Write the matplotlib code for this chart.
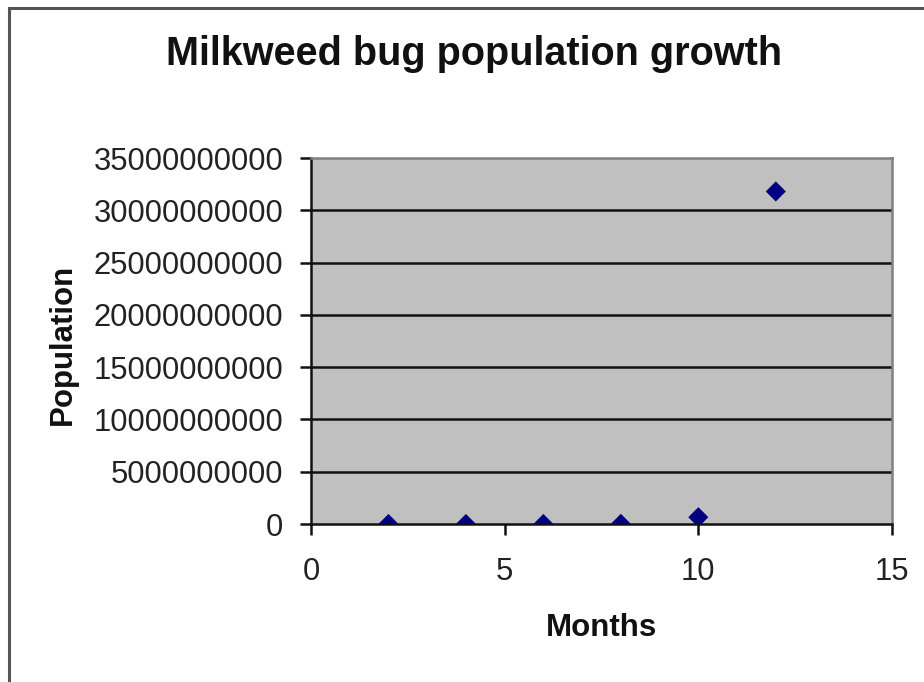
import matplotlib
matplotlib.use("Agg")
import matplotlib.pyplot as plt
from matplotlib.patches import Rectangle
from matplotlib.ticker import FuncFormatter

plt.rcParams['font.family'] = ['Liberation Sans', 'DejaVu Sans']

# Population counts every two months
months = [2, 4, 6, 8, 10, 12]
population = [100, 5000, 250000, 12500000, 650000000, 31800000000]

x_ticks = [0, 5, 10, 15]
y_ticks = [0, 5e9, 10e9, 15e9, 20e9, 25e9, 30e9, 35e9]

W, H = 924, 682
fig = plt.figure(figsize=(W / 100, H / 100), dpi=100)
fig.patch.set_facecolor('white')

# Outer chart frame (runs past the right and bottom edges)
fig.add_artist(Rectangle((9 / W, -0.2), 1.5, 1.2 - 8 / H, transform=fig.transFigure,
                         fill=False, edgecolor='#555555', lw=2.2))

left, right, top, bottom = 311, 892, 158, 524
ax = fig.add_axes([left / W, 1 - bottom / H, (right - left) / W, (bottom - top) / H])
ax.set_facecolor('#C0C0C0')

ax.set_xlim(0, 15)
ax.set_ylim(0, 35e9)
ax.set_xticks(x_ticks)
ax.set_yticks(y_ticks)
ax.yaxis.set_major_formatter(FuncFormatter(lambda v, p: f"{int(round(v))}"))
ax.xaxis.set_major_formatter(FuncFormatter(lambda v, p: f"{int(round(v))}"))

for v in y_ticks[1:-1]:
    ax.axhline(v, color='#111111', lw=1.8, zorder=1)

ax.spines['left'].set_color('#111111')
ax.spines['bottom'].set_color('#111111')
ax.spines['left'].set_linewidth(1.8)
ax.spines['bottom'].set_linewidth(1.8)
ax.spines['top'].set_color('#808080')
ax.spines['right'].set_color('#808080')
ax.spines['top'].set_linewidth(1.8)
ax.spines['right'].set_linewidth(1.8)

ax.tick_params(axis='both', direction='out', colors='#111111', width=1.8,
               labelsize=22.3, labelcolor='#222222')
ax.tick_params(axis='y', length=8, pad=12)
ax.tick_params(axis='x', length=8, pad=16)

ax.scatter(months, population, marker='D', s=105, color='#000080', zorder=3,
           edgecolors='none')

fig.text(474 / W, 1 - 54 / H, 'Milkweed bug population growth', ha='center', va='center',
         fontsize=28.5, fontweight='bold', color='#111111')
fig.text(63 / W, 1 - 344 / H, 'Population', ha='center', va='center', rotation=90,
         fontsize=22.5, fontweight='bold', color='#111111')
fig.text(602 / W, 1 - 628 / H, 'Months', ha='center', va='center',
         fontsize=22.5, fontweight='bold', color='#111111')

fig.savefig('out.png', dpi=100)
